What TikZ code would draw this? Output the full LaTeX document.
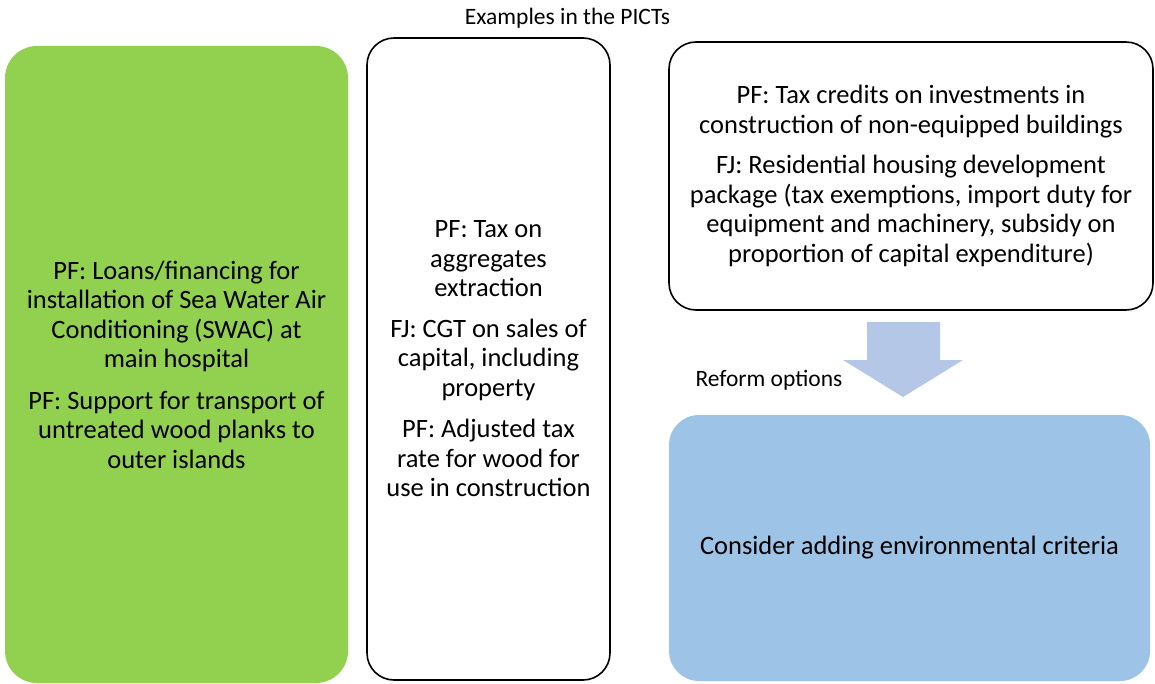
\documentclass[tikz,border=0pt]{standalone}
\usepackage{fontspec}
\setmainfont{Carlito}
\usetikzlibrary{positioning}

\definecolor{boxgreen}{HTML}{92D050}
\definecolor{boxblue}{HTML}{9DC3E6}
\definecolor{arrowblue}{HTML}{B4C7E7}

\tikzstyle{textbox}=[align=center,inner sep=0pt,font=\fontsize{26.5}{29.5}\selectfont]
\tikzstyle{greenbox}=[textbox,fill=boxgreen,rounded corners=32pt]
\tikzstyle{whitebox}=[textbox,draw=black,line width=1.6pt,fill=white,rounded corners=27pt]
\tikzstyle{bluebox}=[textbox,fill=boxblue,rounded corners=30pt]

\begin{document}
\begin{tikzpicture}[x=1pt,y=-1pt]
\useasboundingbox (0,0) rectangle (1155,684);

\node[font=\fontsize{23.5}{26}\selectfont] (TITLE) at (567.5,18) {Examples in the PICTs};

\node[greenbox,minimum width=343pt,minimum height=637pt] (GREEN) at (176.5,364.5) {PF: Loans/financing for\\installation of Sea Water Air\\Conditioning (SWAC) at\\main hospital\\[12pt]PF: Support for transport of\\untreated wood planks to\\outer islands};
\node[whitebox,minimum width=243pt,minimum height=642pt] (MID) at (488.5,359) {PF: Tax on\\aggregates\\extraction\\[11pt]FJ: CGT on sales of\\capital, including\\property\\[12pt]PF: Adjusted tax\\rate for wood for\\use in construction};
\node[whitebox,minimum width=484pt,minimum height=268pt] (TOP) at (911,176) {PF: Tax credits on investments in\\construction of non-equipped buildings\\[11pt]FJ: Residential housing development\\package (tax exemptions, import duty for\\equipment and machinery, subsidy on\\proportion of capital expenditure)};
\node[bluebox,minimum width=481pt,minimum height=266pt] (BLUE) at (909.5,548) {Consider adding environmental criteria};

% block arrow
\fill[arrowblue] (867,322) -- (940,322) -- (940,360) -- (963,360) -- (903,397) -- (843,360) -- (867,360) -- cycle;
\node[anchor=west,font=\fontsize{23.5}{26}\selectfont] (REFORM) at (692,380) {Reform options};
\end{tikzpicture}
\end{document}
